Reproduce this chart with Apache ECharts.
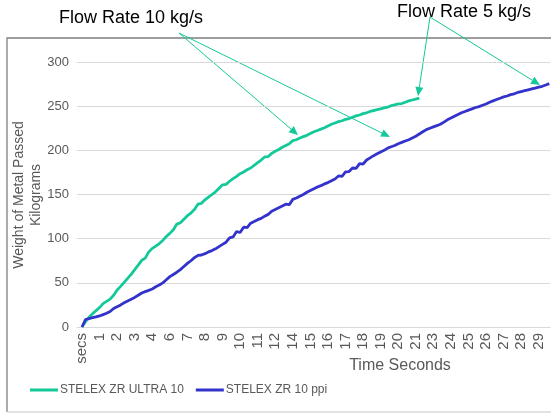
<!DOCTYPE html>
<html>
<head>
<meta charset="utf-8">
<script src="https://cdn.jsdelivr.net/npm/echarts@6/dist/echarts.min.js"></script>
<style>html,body{margin:0;padding:0;background:#fff}#c{width:551px;height:414px}</style>
</head>
<body>
<div id="c"></div>
<script>
// ---- data ----
const seriesNames = ['STELEX ZR ULTRA 10', 'STELEX ZR 10 ppi'];
const tickLabels = ['secs','1','2','3','4','6','7','8','9','10','11','12','14','15','16','17','18','19','20','21','23','24','25','26','27','28','29'];
const samplesPerLabel = 5;
// Weight of metal passed (kg), one value per sample
const ultraWeights = [0,6,11,15,18.5,22,26.5,29,31.5,36,42,46,50.5,55,59.5,65,70,75.5,78,85,89,91.5,94.5,98,102.5,106,110,116.5,118,122,126,129,133,139,140,144,147,150,153,157,161,161.5,165,168,170.5,173.5,175.5,178,180,183,186,189,192.5,193,196.5,199,201,203.5,205.5,207.5,211,212,214,215.5,217,219,221,222.5,224,225.5,227.5,229.5,231,232.5,233.5,235,236,237.5,239,240,241.5,242.5,244,245,246,247,248,249,250.5,251.5,252.5,253,254.5,256,257,258,259];
const ppiWeights = [0,8.5,9.5,10.5,11.5,12.5,14,15.5,17.5,21,23,25,27.5,29.5,31.5,33.5,36,38.5,40,41.5,43,45.5,47.5,50,53.5,57,59.5,62,65,68.5,72,75,78.5,81,81.5,83,85,86.5,88.5,91,93.5,96,101,102,108,107,113,112.5,117.5,119.5,121.5,123,125.5,127.5,131,133,135,137,139,138.5,144.5,146,148,150,152.5,154.5,156.5,158.5,160,162,163.5,165.5,167.5,171,170.5,175.5,176,180,179.5,185,184.5,189,191.5,194,196,198,200,202.5,204,205.5,207.5,209,210.5,212,214,216,218.5,221,223.5,225,226.5,228,229.5,232,234.5,236.5,238.5,240.5,242.5,244,245.5,247,248.5,249.5,251,252.5,254.5,256,257.5,259,260.5,261.5,263,264,265.5,266.5,267.5,268.5,269.5,270.5,271.5,272.5,274,275.5];
const yTicks = {min: 0, max: 300, step: 50};
const yTitleLines = ['Weight of Metal Passed', 'Kilograms'];

// ---- styles ----
const GREEN = '#14C999';
const BLUE = '#3333CC';
const FONT = 'Liberation Sans, Arial, sans-serif';

const toPairs = arr => arr.map((v, i) => [i, v]);
const labelPositions = tickLabels.map((_, j) => j * samplesPerLabel);

function arrow(x1, y1, x2, y2) {
  const L = 9, W = 4;
  const dx = x2 - x1, dy = y2 - y1, len = Math.hypot(dx, dy);
  const ux = dx / len, uy = dy / len;
  const bx = x2 - ux * L, by = y2 - uy * L;
  const px = -uy, py = ux;
  return [
    {type: 'line', silent: true, shape: {x1: x1, y1: y1, x2: bx, y2: by}, style: {stroke: GREEN, lineWidth: 1}},
    {type: 'polygon', silent: true, shape: {points: [[x2, y2], [bx + px * W, by + py * W], [bx - px * W, by - py * W]]}, style: {fill: GREEN}}
  ];
}

const chart = echarts.init(document.getElementById('c'), null, {renderer: 'canvas'});
chart.setOption({
  animation: false,
  backgroundColor: '#fff',
  textStyle: {fontFamily: FONT},
  grid: {left: 77, top: 62, width: 473, height: 265, containLabel: false, outerBoundsMode: 'none'},
  legend: {
    left: 30, top: 384, padding: 0,
    icon: 'rect', itemWidth: 28, itemHeight: 3, itemGap: 12,
    textStyle: {fontSize: 12, color: '#595959', fontFamily: FONT, padding: [0, 0, 0, -3]},
    data: seriesNames
  },
  xAxis: {
    type: 'value',
    min: -1.42, max: 133.2,
    axisLine: {show: true, lineStyle: {color: '#d9d9d9', width: 1}},
    axisTick: {show: false},
    splitLine: {show: false},
    axisLabel: {
      customValues: labelPositions,
      formatter: v => tickLabels[Math.round(v / samplesPerLabel)],
      rotate: 90, fontSize: 15, color: '#595959', margin: 6, fontFamily: FONT
    }
  },
  yAxis: {
    type: 'value',
    min: yTicks.min, max: yTicks.max, interval: yTicks.step,
    axisLine: {show: false}, axisTick: {show: false},
    splitLine: {lineStyle: {color: '#d9d9d9', width: 1}},
    axisLabel: {fontSize: 13, color: '#595959', margin: 8, fontFamily: FONT}
  },
  series: [
    {name: seriesNames[0], type: 'line', data: toPairs(ultraWeights), showSymbol: false, symbol: 'none',
     lineStyle: {color: GREEN, width: 2.8}, itemStyle: {color: GREEN}},
    {name: seriesNames[1], type: 'line', data: toPairs(ppiWeights), showSymbol: false, symbol: 'none',
     lineStyle: {color: BLUE, width: 2.8}, itemStyle: {color: BLUE}}
  ],
  graphic: [
    {type: 'polyline', silent: true, shape: {points: [[7, 412], [7, 38], [552, 38]]}, style: {stroke: '#7f7f7f', lineWidth: 1.3, fill: null}},
    {type: 'line', silent: true, shape: {x1: 7, y1: 412, x2: 552, y2: 412}, style: {stroke: '#d9d9d9', lineWidth: 1.3}},
    {type: 'text', silent: true, x: 19, y: 195, rotation: Math.PI / 2, style: {text: yTitleLines[0], font: '14px ' + FONT, fill: '#595959', align: 'center', verticalAlign: 'middle'}},
    {type: 'text', silent: true, x: 36, y: 195, rotation: Math.PI / 2, style: {text: yTitleLines[1], font: '14px ' + FONT, fill: '#595959', align: 'center', verticalAlign: 'middle'}},
    {type: 'text', silent: true, x: 131, y: 18, style: {text: 'Flow Rate 10 kg/s', font: '18px ' + FONT, fill: '#000', align: 'center', verticalAlign: 'middle'}},
    {type: 'text', silent: true, x: 464, y: 12, style: {text: 'Flow Rate 5 kg/s', font: '18px ' + FONT, fill: '#000', align: 'center', verticalAlign: 'middle'}},
    {type: 'text', silent: true, x: 400, y: 366, style: {text: 'Time Seconds', font: '16px ' + FONT, fill: '#595959', align: 'center', verticalAlign: 'middle'}},
    ...arrow(179, 33, 298, 135),
    ...arrow(179, 33, 390, 137),
    ...arrow(430, 17, 418, 96),
    ...arrow(430, 17, 540, 85)
  ]
});
</script>
</body>
</html>
